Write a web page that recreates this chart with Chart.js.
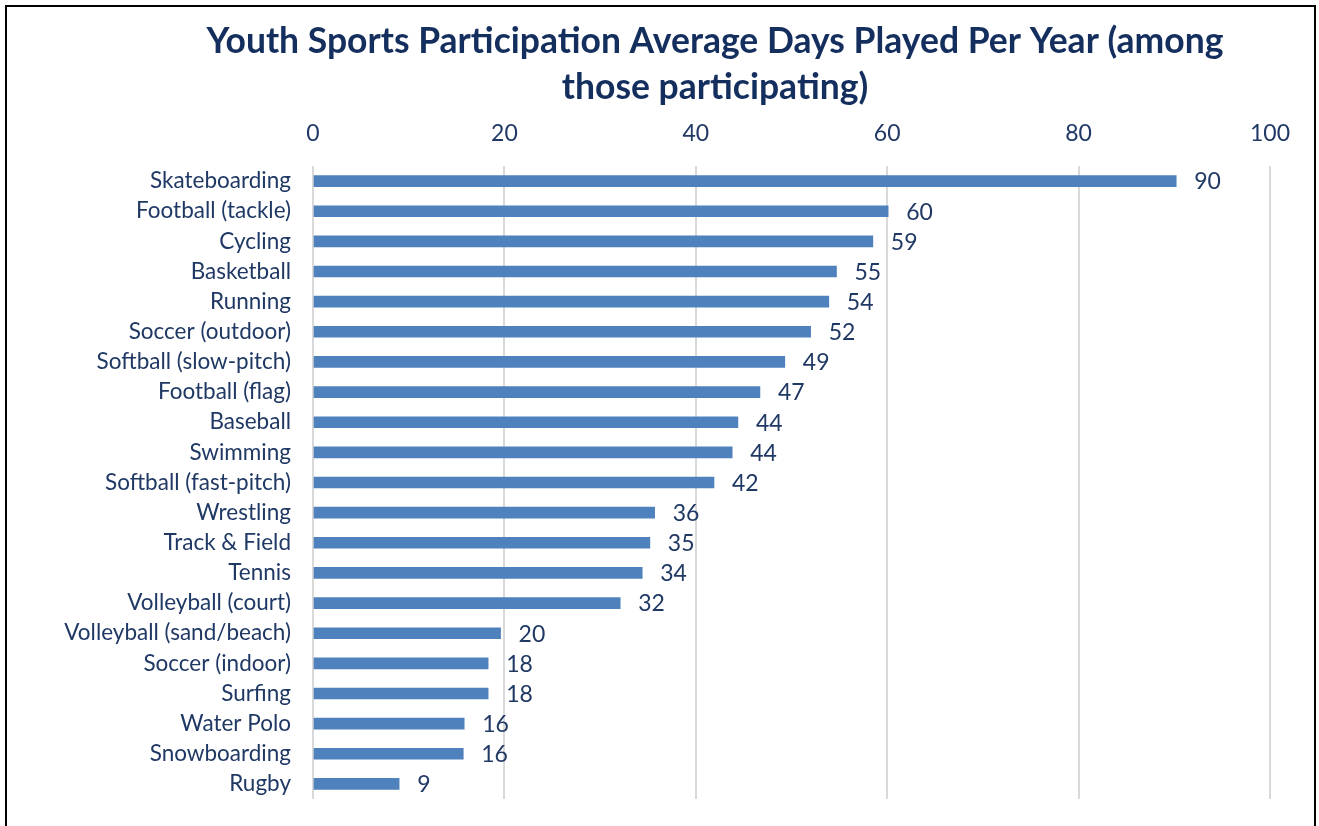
<!DOCTYPE html>
<html>
<head>
<meta charset="utf-8">
<script src="https://cdn.jsdelivr.net/npm/chart.js"></script>
<style>
  html, body { margin: 0; padding: 0; background: #fff; }
  #sportsChart { position: absolute; left: 0; top: 0; }
  #frame { position: absolute; left: 5px; top: 5px; width: 1307px; height: 830px; border: 2px solid #000; pointer-events: none; }
</style>
</head>
<body>
<canvas id="sportsChart" width="1319" height="826"></canvas>
<div id="frame"></div>
<script>
var sports = [
  "Skateboarding", "Football (tackle)", "Cycling", "Basketball", "Running",
  "Soccer (outdoor)", "Softball (slow-pitch)", "Football (flag)", "Baseball",
  "Swimming", "Softball (fast-pitch)", "Wrestling", "Track & Field", "Tennis",
  "Volleyball (court)", "Volleyball (sand/beach)", "Soccer (indoor)", "Surfing",
  "Water Polo", "Snowboarding", "Rugby"
];
var daysPlayed = [90.2, 60.1, 58.5, 54.7, 53.9, 52.0, 49.3, 46.7, 44.4, 43.8, 41.9,
  35.7, 35.2, 34.4, 32.1, 19.6, 18.3, 18.3, 15.8, 15.7, 9.0];
var xTicks = [0, 20, 40, 60, 80, 100];
var titleLines = ["Youth Sports Participation Average Days Played Per Year (among", "those participating)"];

var navy = "#1F3864";
var fontName = "Lato, 'Open Sans', sans-serif";

// title drawn by hand so it can sit off-centre like the original
var titleText = {
  id: "titleText",
  afterDraw: function(chart) {
    var ctx = chart.ctx;
    ctx.save();
    ctx.fillStyle = "#142F5E";
    ctx.font = "bold 35.5px " + fontName;
    ctx.textAlign = "center";
    ctx.textBaseline = "middle";
    ctx.fillText(titleLines[0], 715, 42);
    ctx.fillText(titleLines[1], 715, 88);
    ctx.restore();
  }
};

// value labels at the end of each bar
var valueLabels = {
  id: "valueLabels",
  afterDatasetsDraw: function(chart) {
    var ctx = chart.ctx;
    var meta = chart.getDatasetMeta(0);
    ctx.save();
    ctx.fillStyle = navy;
    ctx.font = "23px " + fontName;
    ctx.textAlign = "left";
    ctx.textBaseline = "middle";
    meta.data.forEach(function(bar, i) {
      ctx.fillText(Math.round(daysPlayed[i]), bar.x + 18, bar.y + 1);
    });
    ctx.restore();
  }
};

var sportsCanvas = document.getElementById("sportsChart");

var sportsData = {
  labels: sports,
  datasets: [{
    data: daysPlayed,
    backgroundColor: "#4F81BD",
    borderWidth: 0,
    barThickness: 11
  }]
};

var chartOptions = {
  indexAxis: "y",
  responsive: false,
  animation: false,
  layout: { padding: { left: 0, right: 49, top: 111, bottom: 27 } },
  plugins: {
    legend: { display: false },
    tooltip: { enabled: false },
    title: { display: false }
  },
  scales: {
    x: {
      position: "top",
      min: 0,
      max: 100,
      afterBuildTicks: function(scale) {
        scale.ticks = xTicks.map(function(v) { return { value: v }; });
      },
      afterFit: function(scale) { scale.height = 55; },
      grid: { color: "#D9D9D9", lineWidth: 2, drawTicks: false },
      border: { display: false },
      ticks: { color: navy, font: { family: fontName, size: 23 }, padding: 19 }
    },
    y: {
      afterFit: function(scale) { scale.width = 313; },
      // invisible tick marks give the label gap without padding the scale vertically
      grid: { display: true, drawOnChartArea: false, drawTicks: true, tickLength: 22, color: "rgba(0,0,0,0)" },
      border: { display: false },
      ticks: { color: navy, font: { family: fontName, size: 22.5 }, padding: 0, autoSkip: false }
    }
  }
};

var sportsChart = new Chart(sportsCanvas, {
  type: "bar",
  data: sportsData,
  options: chartOptions,
  plugins: [valueLabels, titleText]
});
</script>
</body>
</html>
